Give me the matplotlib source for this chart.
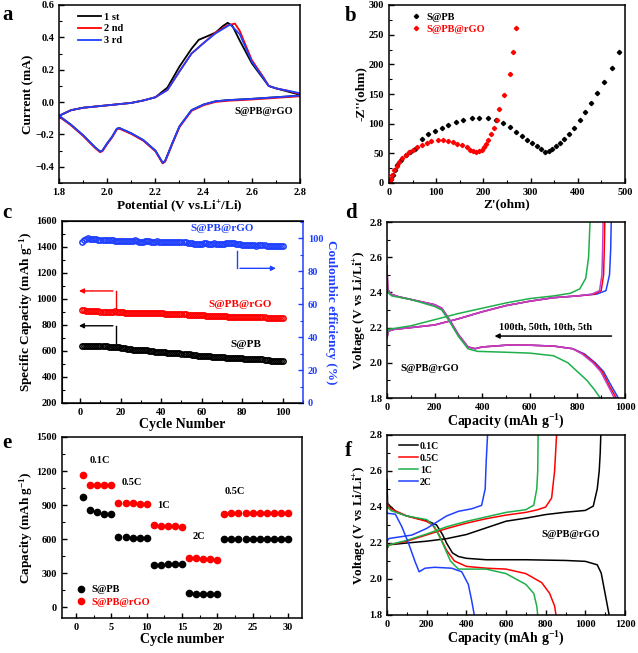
import matplotlib
matplotlib.use('Agg')
import matplotlib.pyplot as plt
import numpy as np
from matplotlib.ticker import MultipleLocator

plt.rcParams['font.family'] = ['Liberation Serif', 'DejaVu Serif']
plt.rcParams['font.weight'] = 'bold'
plt.rcParams['axes.labelweight'] = 'bold'
plt.rcParams['mathtext.fontset'] = 'custom'
plt.rcParams['mathtext.rm'] = 'Liberation Serif:bold'
plt.rcParams['mathtext.it'] = 'Liberation Serif:bold'
plt.rcParams['mathtext.default'] = 'rm'

# ---------------- (a) CV curves ----------------
cv1_up_v = [1.80, 1.85, 1.90, 2.00, 2.10, 2.15, 2.20, 2.25, 2.30, 2.35, 2.38, 2.42, 2.45, 2.48, 2.50, 2.52, 2.55, 2.60, 2.65, 2.67, 2.70, 2.75, 2.80]
cv1_up_i = [-0.085, -0.05, -0.035, -0.02, -0.005, 0.01, 0.03, 0.09, 0.22, 0.33, 0.385, 0.41, 0.43, 0.47, 0.49, 0.47, 0.38, 0.24, 0.14, 0.10, 0.085, 0.065, 0.045]
cv2_up_v = [1.80, 1.85, 1.90, 2.00, 2.10, 2.15, 2.20, 2.25, 2.30, 2.35, 2.40, 2.45, 2.50, 2.53, 2.55, 2.60, 2.65, 2.67, 2.70, 2.75, 2.80]
cv2_up_i = [-0.085, -0.05, -0.035, -0.02, -0.005, 0.01, 0.03, 0.075, 0.19, 0.30, 0.365, 0.43, 0.475, 0.485, 0.44, 0.26, 0.15, 0.10, 0.085, 0.07, 0.05]
cv3_up_v = [1.80, 1.85, 1.90, 2.00, 2.10, 2.15, 2.20, 2.25, 2.30, 2.35, 2.40, 2.45, 2.50, 2.51, 2.55, 2.60, 2.65, 2.67, 2.70, 2.75, 2.80]
cv3_up_i = [-0.085, -0.05, -0.035, -0.02, -0.005, 0.01, 0.03, 0.075, 0.19, 0.30, 0.365, 0.425, 0.47, 0.48, 0.42, 0.25, 0.145, 0.10, 0.085, 0.07, 0.055]
cv_dn_v = [2.80, 2.70, 2.60, 2.50, 2.45, 2.40, 2.35, 2.30, 2.27, 2.24, 2.23, 2.20, 2.15, 2.10, 2.05, 2.04, 2.02, 2.00, 1.98, 1.97, 1.95, 1.90, 1.85, 1.80]
cv_dn_i = [0.04, 0.03, 0.02, 0.012, 0.005, -0.015, -0.05, -0.15, -0.255, -0.365, -0.375, -0.30, -0.235, -0.193, -0.16, -0.165, -0.215, -0.255, -0.30, -0.305, -0.28, -0.205, -0.14, -0.085]

# ---------------- (b) Nyquist ----------------
pb_zre = [3, 5, 8, 12, 18, 25, 35, 45, 55, 69, 82, 97, 112, 126, 142, 157, 175, 191, 209, 227, 242, 256, 270, 281, 292, 302, 313, 322, 330, 338, 345, 353, 362, 371, 381, 393, 405, 415, 428, 440, 455, 473, 488]
pb_zim = [1, 6, 14, 22, 30, 38, 47, 52, 58, 75, 82, 87, 93, 98, 103, 107, 110, 110, 110, 106, 101, 95, 86, 79, 73, 67, 62, 57, 52, 54, 58, 62, 68, 75, 82, 93, 106, 119, 135, 151, 171, 194, 220]
rgo_zre = [2, 4, 7, 11, 16, 22, 28, 35, 42, 50, 59, 69, 80, 90, 103, 115, 126, 136, 145, 154, 165, 172, 179, 185, 191, 196, 201, 206, 210, 216, 222, 228, 234, 244, 256, 263, 269]
rgo_zim = [1, 7, 14, 22, 29, 36, 42, 47, 52, 56, 61, 64, 68, 70, 72, 72, 71, 69, 66, 64, 60, 56, 54, 53, 54, 56, 60, 65, 72, 82, 93, 107, 125, 149, 183, 221, 262]

# ---------------- (c) cycling ----------------
cycles_c = np.arange(1, 101)
cap_pb = [640, 638, 640, 639, 641, 638, 637, 639, 638, 636,
          637, 635, 636, 634, 633, 632, 633, 630, 628, 626,
          622, 620, 618, 615, 612, 610, 609, 608, 609, 607,
          606, 605, 604, 603, 600, 598, 596, 595, 593, 592,
          590, 589, 588, 587, 586, 585, 585, 583, 582, 580,
          578, 577, 576, 574, 572, 570, 566, 563, 560, 560,
          561, 560, 559, 558, 557, 557, 556, 555, 554, 552,
          551, 550, 549, 548, 546, 545, 544, 544, 543, 543,
          542, 542, 541, 541, 540, 540, 539, 539, 538, 536,
          533, 530, 528, 526, 524, 523, 522, 522, 521, 520]
cap_rgo = [917, 912, 910, 908, 907, 906, 905, 905, 904, 903,
           903, 902, 902, 901, 900, 899, 906, 900, 899, 898,
           897, 896, 896, 895, 895, 894, 894, 893, 893, 892,
           892, 892, 891, 891, 891, 890, 890, 890, 889, 889,
           889, 888, 887, 887, 886, 885, 885, 884, 883, 882,
           882, 881, 880, 880, 879, 878, 878, 877, 876, 875,
           874, 873, 872, 871, 870, 869, 868, 867, 867, 866,
           866, 866, 865, 865, 865, 865, 864, 864, 864, 864,
           864, 863, 863, 862, 862, 861, 861, 860, 860, 859,
           858, 857, 856, 855, 855, 856, 856, 857, 857, 857]
ce_rgo = [97.5, 98.8, 99.5, 100.0, 99.8, 99.6, 99.4, 99.3, 99.2, 99.1,
          99.0, 98.9, 98.9, 98.8, 98.7, 98.7, 98.6, 98.6, 98.5, 98.5,
          98.5, 98.4, 98.4, 98.4, 98.3, 98.4, 99.0, 98.2, 98.0, 97.8,
          97.9, 98.2, 98.3, 98.1, 97.8, 97.6, 98.0, 98.2, 97.9, 97.7,
          97.8, 98.0, 97.9, 97.8, 97.6, 97.7, 97.8, 97.6, 97.5, 97.6,
          97.5, 97.6, 97.4, 97.3, 97.1, 96.8, 96.5, 96.4, 96.6, 96.8,
          97.0, 96.9, 96.8, 96.7, 96.8, 96.9, 96.8, 96.7, 96.6, 96.7,
          96.8, 96.9, 97.0, 97.1, 97.2, 97.0, 96.8, 96.6, 96.5, 96.2,
          96.0, 95.8, 95.9, 96.0, 96.0, 95.8, 95.6, 95.7, 95.9, 96.0,
          95.7, 95.5, 95.6, 95.5, 95.4, 95.5, 95.6, 95.4, 95.3, 95.2]

# ---------------- (d) charge/discharge at cycles ----------------
d_chg_common_cap = [0, 5, 30, 100, 200, 300, 400, 500, 600, 700, 800]
d_chg_common_v = [2.14, 2.18, 2.19, 2.20, 2.215, 2.25, 2.29, 2.325, 2.35, 2.37, 2.38]
d_chg_tail = {
    '5th': ([880, 920, 935, 940, 942], [2.39, 2.41, 2.5, 2.65, 2.8]),
    '10th': ([870, 900, 910, 913, 915], [2.39, 2.41, 2.5, 2.65, 2.8]),
    '50th': ([860, 893, 903, 906, 908], [2.39, 2.41, 2.5, 2.65, 2.8]),
}
d_dis_common_cap = [0, 3, 15, 50, 100, 150, 200, 230, 260, 300, 340, 370, 400, 500, 600, 700, 780]
d_dis_common_v = [2.55, 2.42, 2.39, 2.375, 2.36, 2.345, 2.33, 2.31, 2.25, 2.16, 2.09, 2.08, 2.09, 2.10, 2.10, 2.095, 2.08]
d_dis_tail = {
    '5th': ([830, 875, 910, 938, 972], [2.05, 2.0, 1.95, 1.88, 1.80]),
    '10th': ([825, 870, 904, 930, 963], [2.05, 2.0, 1.95, 1.88, 1.80]),
    '50th': ([820, 865, 898, 925, 955], [2.05, 2.0, 1.95, 1.88, 1.80]),
}
d100_chg_cap = [0, 5, 100, 200, 300, 400, 500, 600, 700, 770, 810, 835, 847, 853]
d100_chg_v = [2.15, 2.19, 2.21, 2.245, 2.28, 2.31, 2.34, 2.365, 2.38, 2.395, 2.42, 2.48, 2.6, 2.8]
d100_dis_cap = [0, 3, 20, 100, 200, 230, 260, 300, 340, 380, 500, 600, 700, 760, 800, 840, 870, 896]
d100_dis_v = [2.45, 2.40, 2.38, 2.36, 2.32, 2.30, 2.24, 2.15, 2.08, 2.065, 2.06, 2.055, 2.04, 2.0, 1.95, 1.90, 1.85, 1.80]

# ---------------- (e) rate ----------------
cycles_e = np.arange(1, 31)
rate_pb = [975, 860, 840, 825, 820, 620, 615, 612, 610, 610,
           370, 375, 378, 378, 380, 120, 118, 117, 115, 115,
           600, 603, 603, 603, 602, 602, 600, 600, 598, 598]
rate_rgo = [1165, 1080, 1075, 1075, 1075, 915, 918, 915, 912, 910,
            720, 718, 715, 712, 710, 435, 430, 425, 420, 415,
            820, 830, 832, 833, 833, 833, 833, 833, 833, 833]
rate_labels = ['0.1C', '0.5C', '1C', '2C', '0.5C']

# ---------------- (f) rate profiles ----------------
f_labels = ['0.1C', '0.5C', '1C', '2C']
f_colors = ['black', 'red', '#1db04a', '#2040ff']
f_chg_cap = [
    [0, 10, 100, 200, 300, 400, 500, 600, 700, 800, 900, 1000, 1040, 1060, 1070, 1075, 1078],
    [0, 10, 100, 200, 300, 400, 500, 600, 700, 760, 800, 830, 845, 850, 855],
    [0, 10, 100, 200, 300, 400, 500, 600, 700, 740, 755, 760, 762],
    [0, 10, 125, 200, 300, 360, 427, 477, 495, 500, 507],
]
f_chg_v = [
    [2.17, 2.19, 2.20, 2.21, 2.224, 2.247, 2.284, 2.321, 2.338, 2.358, 2.371, 2.381, 2.405, 2.5, 2.6, 2.7, 2.8],
    [2.17, 2.19, 2.21, 2.245, 2.28, 2.31, 2.335, 2.355, 2.37, 2.385, 2.40, 2.45, 2.6, 2.7, 2.8],
    [2.17, 2.19, 2.215, 2.25, 2.29, 2.32, 2.345, 2.37, 2.385, 2.41, 2.5, 2.6, 2.8],
    [2.21, 2.225, 2.244, 2.281, 2.35, 2.376, 2.39, 2.409, 2.5, 2.65, 2.8],
]
f_dis_cap = [
    [0, 3, 20, 50, 100, 200, 250, 280, 300, 330, 360, 400, 500, 600, 700, 800, 900, 1000, 1060, 1080, 1100, 1120],
    [0, 3, 20, 100, 200, 230, 260, 300, 340, 400, 500, 600, 700, 780, 820, 845, 852],
    [0, 3, 20, 100, 200, 240, 280, 320, 360, 400, 500, 600, 700, 740, 755, 760],
    [0, 3, 42, 75, 108, 142, 162, 192, 240, 326, 377, 410, 427, 440],
]
f_dis_v = [
    [2.55, 2.42, 2.40, 2.37, 2.35, 2.325, 2.30, 2.247, 2.20, 2.145, 2.125, 2.115, 2.107, 2.107, 2.107, 2.105, 2.103, 2.098, 2.079, 2.033, 1.917, 1.80],
    [2.45, 2.41, 2.39, 2.35, 2.32, 2.30, 2.25, 2.16, 2.10, 2.07, 2.06, 2.055, 2.03, 1.98, 1.92, 1.85, 1.80],
    [2.44, 2.40, 2.38, 2.35, 2.33, 2.29, 2.20, 2.10, 2.055, 2.055, 2.055, 2.03, 1.97, 1.92, 1.85, 1.80],
    [2.37, 2.365, 2.36, 2.29, 2.20, 2.095, 2.04, 2.06, 2.065, 2.06, 2.04, 1.97, 1.88, 1.80],
]

W, H = 638, 653
fig = plt.figure(figsize=(W / 100, H / 100), dpi=100)


def px_axes(l, t, r, b):
    return fig.add_axes([l / W, 1 - b / H, (r - l) / W, (b - t) / H])


def style(ax, fs=7.5):
    ax.tick_params(which='both', direction='in', labelsize=fs, top=False, right=False)
    ax.tick_params(which='major', length=3.5, width=1)
    ax.tick_params(which='minor', length=2, width=0.8)
    for s in ax.spines.values():
        s.set_linewidth(1.1)


LBL = 9.5

# (a)
ax = px_axes(59, 5, 300, 183)
ax.plot(cv1_up_v + cv_dn_v, cv1_up_i + cv_dn_i, color='black', lw=1.3, label='1 st')
ax.plot(cv2_up_v + cv_dn_v, cv2_up_i + [i - 0.004 for i in cv_dn_i], color='red', lw=1.3, label='2 nd')
ax.plot(cv3_up_v + cv_dn_v, cv3_up_i + cv_dn_i, color='#2040ff', lw=1.3, label='3 rd')
ax.set_xlim(1.8, 2.8)
ax.set_ylim(-0.5, 0.6)
ax.xaxis.set_major_locator(MultipleLocator(0.2))
ax.xaxis.set_minor_locator(MultipleLocator(0.1))
ax.yaxis.set_major_locator(MultipleLocator(0.2))
ax.yaxis.set_minor_locator(MultipleLocator(0.1))
ax.set_xlabel('Potential (V vs.Li$^{+}$/Li)', fontsize=LBL, labelpad=1)
ax.set_ylabel('Current (mA)', fontsize=LBL, labelpad=1)
ax.legend(loc='upper left', frameon=False, fontsize=7.5, handlelength=2.2, labelspacing=0.25,
          bbox_to_anchor=(0.05, 1.0), borderaxespad=0.3, handletextpad=0.3)
ax.text(2.77, -0.06, 'S@PB@rGO', fontsize=7.5, ha='right', va='center')
style(ax)

# (b)
ax = px_axes(389, 5, 625, 183)
ax.plot(pb_zre, pb_zim, 'D', color='black', ms=2.2, label='S@PB')
ax.plot(rgo_zre, rgo_zim, 'D', color='red', ms=2.2, label='S@PB@rGO')
ax.set_xlim(0, 500)
ax.set_ylim(0, 300)
ax.xaxis.set_major_locator(MultipleLocator(100))
ax.xaxis.set_minor_locator(MultipleLocator(50))
ax.yaxis.set_major_locator(MultipleLocator(50))
ax.yaxis.set_minor_locator(MultipleLocator(25))
ax.set_xlabel("Z'(ohm)", fontsize=LBL, labelpad=1)
ax.set_ylabel("-Z''(ohm)", fontsize=LBL, labelpad=1)
leg = ax.legend(loc='upper left', frameon=False, fontsize=7.5, handlelength=1.0, labelspacing=0.3,
                bbox_to_anchor=(0.06, 1.0), borderaxespad=0.3, handletextpad=0.5)
for t, c in zip(leg.get_texts(), ['black', 'red']):
    t.set_color(c)
style(ax)

# (c)
ax = px_axes(62, 221, 303, 403)
ax.plot(cycles_c, cap_pb, 'o', ms=3.8, mfc='none', mec='black', mew=1.1)
ax.plot(cycles_c, cap_rgo, 'o', ms=3.8, mfc='none', mec='red', mew=1.1)
ax.set_xlim(-9, 110)
ax.set_ylim(200, 1600)
ax.xaxis.set_major_locator(MultipleLocator(20))
ax.xaxis.set_minor_locator(MultipleLocator(10))
ax.yaxis.set_major_locator(MultipleLocator(200))
ax.yaxis.set_minor_locator(MultipleLocator(100))
ax.set_xlabel('Cycle Number', fontsize=LBL + 0.5, labelpad=1)
ax.set_ylabel('Specific Capacity (mAh g$^{-1}$)', fontsize=LBL, labelpad=1)
style(ax)
ax.spines['right'].set_visible(False)
ax2 = ax.twinx()
ax2.plot(cycles_c, ce_rgo, 'o', ms=3.8, mfc='none', mec='#2040ff', mew=1.1)
ax2.set_ylim(0, 110.5)
ax2.yaxis.set_major_locator(MultipleLocator(20))
ax2.yaxis.set_minor_locator(MultipleLocator(10))
ax2.set_ylabel('Coulombic efficiency (%)', fontsize=LBL, color='#2040ff', rotation=270, labelpad=10)
ax2.tick_params(which='both', direction='in', labelsize=7.5, colors='#2040ff')
ax2.tick_params(which='major', length=3.5, width=1)
ax2.tick_params(which='minor', length=2, width=0.8)
ax2.spines['right'].set_color('#2040ff')
ax2.spines['right'].set_linewidth(1.1)
ax.text(70, 1540, 'S@PB@rGO', color='#2040ff', fontsize=8, ha='center', va='center')
ax.text(79, 960, 'S@PB@rGO', color='red', fontsize=8, ha='center', va='center')
ax.text(82, 650, 'S@PB', color='black', fontsize=8, ha='center', va='center')
ax.plot([77.5, 77.5], [1370, 1236], color='#2040ff', lw=1)
ax.annotate('', xy=(98, 1236), xytext=(77.5, 1236),
            arrowprops=dict(arrowstyle='-|>', color='#2040ff', lw=1, mutation_scale=7))
ax.plot([17.5, 17.5], [925, 1062], color='red', lw=1)
ax.annotate('', xy=(-2, 1062), xytext=(17.5, 1062),
            arrowprops=dict(arrowstyle='-|>', color='red', lw=1, mutation_scale=7))
ax.plot([17.5, 17.5], [660, 794], color='black', lw=1)
ax.annotate('', xy=(-2, 794), xytext=(17.5, 794),
            arrowprops=dict(arrowstyle='-|>', color='black', lw=1, mutation_scale=7))

# (d)
ax = px_axes(387, 222, 625, 398)
d_colors = {'5th': '#2040ff', '10th': 'red', '50th': '#c040d0'}
for key in ['5th', '10th', '50th']:
    c = d_colors[key]
    ax.plot(d_chg_common_cap + d_chg_tail[key][0], d_chg_common_v + d_chg_tail[key][1], color=c, lw=1.1)
    ax.plot(d_dis_common_cap + d_dis_tail[key][0], d_dis_common_v + d_dis_tail[key][1], color=c, lw=1.1)
ax.plot(d100_chg_cap, d100_chg_v, color='#1db04a', lw=1.1)
ax.plot(d100_dis_cap, d100_dis_v, color='#1db04a', lw=1.1)
ax.set_xlim(0, 1000)
ax.set_ylim(1.8, 2.8)
ax.xaxis.set_major_locator(MultipleLocator(200))
ax.xaxis.set_minor_locator(MultipleLocator(100))
ax.yaxis.set_major_locator(MultipleLocator(0.2))
ax.yaxis.set_minor_locator(MultipleLocator(0.1))
ax.set_xlabel('Capacity (mAh g$^{-1}$)', fontsize=LBL + 0.5, labelpad=1)
ax.set_ylabel('Voltage (V vs Li/Li$^{+}$)', fontsize=LBL, labelpad=1)
ax.annotate('', xy=(440, 2.152), xytext=(955, 2.152),
            arrowprops=dict(arrowstyle='-|>', color='black', lw=1.1, mutation_scale=7))
ax.text(470, 2.175, '100th, 50th, 10th, 5th', fontsize=7.5, ha='left', va='bottom')
ax.text(55, 1.97, 'S@PB@rGO', fontsize=7.5, ha='left', va='center')
style(ax)

# (e)
ax = px_axes(62, 437, 302, 618)
ax.plot(cycles_e, rate_pb, 'o', color='black', ms=4.5, label='S@PB')
ax.plot(cycles_e, rate_rgo, 'o', color='red', ms=4.5, label='S@PB@rGO')
ax.set_xlim(-2, 32)
ax.set_ylim(-97, 1500)
ax.xaxis.set_major_locator(MultipleLocator(5))
ax.xaxis.set_minor_locator(MultipleLocator(2.5))
ax.yaxis.set_major_locator(MultipleLocator(300))
ax.yaxis.set_minor_locator(MultipleLocator(150))
ax.set_xlabel('Cycle number', fontsize=LBL + 0.5, labelpad=1)
ax.set_ylabel('Capacity (mAh g$^{-1}$)', fontsize=LBL, labelpad=1)
for (x, y), s in zip([(1.9, 1290), (6.45, 1097), (11.5, 893), (16.5, 620), (21.1, 1015)], rate_labels):
    ax.text(x, y, s, fontsize=7.5, ha='left', va='center')
leg = ax.legend(loc='lower left', frameon=False, fontsize=7.5, handlelength=0.8, labelspacing=0.35,
                bbox_to_anchor=(0.03, 0.02), borderaxespad=0.3, handletextpad=0.6)
for t, c in zip(leg.get_texts(), ['black', 'red']):
    t.set_color(c)
style(ax)

# (f)
ax = px_axes(387, 435, 625, 615)
for cc, cv, dc, dv, c, lab in zip(f_chg_cap, f_chg_v, f_dis_cap, f_dis_v, f_colors, f_labels):
    ax.plot(cc, cv, color=c, lw=1.1, label=lab)
    ax.plot(dc, dv, color=c, lw=1.1)
ax.set_xlim(0, 1200)
ax.set_ylim(1.8, 2.8)
ax.xaxis.set_major_locator(MultipleLocator(200))
ax.xaxis.set_minor_locator(MultipleLocator(100))
ax.yaxis.set_major_locator(MultipleLocator(0.2))
ax.yaxis.set_minor_locator(MultipleLocator(0.1))
ax.set_xlabel('Capacity (mAh g$^{-1}$)', fontsize=LBL + 0.5, labelpad=1)
ax.set_ylabel('Voltage (V vs Li/Li$^{+}$)', fontsize=LBL, labelpad=1)
ax.legend(loc='upper left', frameon=False, fontsize=7, handlelength=2.0, labelspacing=0.3,
          bbox_to_anchor=(0.02, 1.0), borderaxespad=0.3, handletextpad=0.2)
ax.text(778, 2.245, 'S@PB@rGO', fontsize=7.5, ha='left', va='center')
style(ax)

# panel letters
for s, x, y in [('a', 2, 20), ('b', 345, 21), ('c', 2, 218), ('d', 345, 218), ('e', 2, 448), ('f', 345, 456)]:
    fig.text(x / W, 1 - y / H, s, fontsize=15, fontweight='bold', ha='left', va='baseline')

fig.savefig('out.png', dpi=100)
